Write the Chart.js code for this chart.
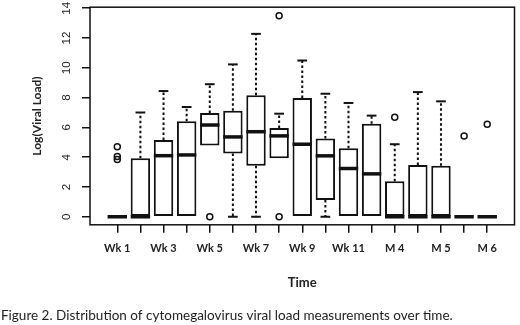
<!DOCTYPE html>
<html>
<head>
<meta charset="utf-8">
<script src="https://cdn.jsdelivr.net/npm/chart.js@4.4.1/dist/chart.umd.min.js"></script>
<style>
  html, body { margin: 0; padding: 0; background: #fff; }
  #wrap { width: 520px; height: 325px; }
</style>
</head>
<body>
<div id="wrap"><canvas id="boxChart"></canvas></div>
<script>
// one box per time point, R style boxplot
var positions = [1, 2, 3, 4, 5, 6, 7, 8, 9, 10, 11, 12, 13, 14, 15, 16, 17];
var tickLabels = ["Wk 1", "", "Wk 3", "", "Wk 5", "", "Wk 7", "", "Wk 9", "", "Wk 11", "", "M 4", "", "M 5", "", "M 6"];
var yTicks = [0, 2, 4, 6, 8, 10, 12, 14];

var whiskerLow = [0, 0, 0, 0, 4.78, 0, 0, 3.93, 0, 0, 0, 0, 0, 0, 0, 0, 0];
var q1 = [0, 0, 0, 0, 4.78, 4.24, 3.42, 3.93, 0, 1.12, 0, 0, 0, 0, 0, 0, 0];
var median = [0, 0, 4.1, 4.15, 6.16, 5.36, 5.71, 5.43, 4.87, 4.09, 3.24, 2.88, 0, 0, 0, 0, 0];
var q3 = [0, 3.93, 5.16, 6.41, 6.97, 7.12, 8.15, 5.96, 7.97, 5.25, 4.6, 6.25, 2.39, 3.48, 3.42, 0, 0];
var whiskerHigh = [0, 7.0, 8.44, 7.37, 8.9, 10.23, 12.28, 6.92, 10.49, 8.26, 7.64, 6.79, 4.87, 8.37, 7.75, 0, 0];

var outlierPos = [1, 1, 1, 5, 8, 8, 13, 16, 17];
var outlierVal = [4.7, 4.05, 3.85, 0, 13.5, 0, 6.68, 5.43, 6.21];

var caption = "Figure 2. Distribution of cytomegalovirus viral load measurements over time.";
var ink = "#111";

var boxData = positions.map(function (p, i) {
  return { x: p, y: [q1[i], q3[i]] };
});
var outlierData = outlierPos.map(function (p, i) {
  return { x: p, y: outlierVal[i] };
});

function seg(c, x1, y1, x2, y2) {
  c.beginPath();
  c.moveTo(x1, y1);
  c.lineTo(x2, y2);
  c.stroke();
}

var boxExtras = {
  id: "boxExtras",
  afterDatasetsDraw: function (chart) {
    var c = chart.ctx;
    var ys = chart.scales.y;
    var bars = chart.getDatasetMeta(0).data;
    c.save();
    c.strokeStyle = ink;
    for (var i = 0; i < bars.length; i++) {
      var b = bars[i];
      var half = b.width / 2;
      var cap = b.width / 4;
      var yq1 = ys.getPixelForValue(q1[i]);
      var yq3 = ys.getPixelForValue(q3[i]);
      var ylo = ys.getPixelForValue(whiskerLow[i]);
      var yhi = ys.getPixelForValue(whiskerHigh[i]);
      // whiskers (dotted)
      c.lineWidth = 2;
      c.setLineDash([2.5, 2.5]);
      if (yhi < yq3) seg(c, b.x, yq3, b.x, yhi);
      if (ylo > yq1) seg(c, b.x, yq1, b.x, ylo);
      c.setLineDash([]);
      // staples
      if (yhi < yq3) seg(c, b.x - cap, yhi, b.x + cap, yhi);
      if (ylo > yq1) seg(c, b.x - cap, ylo, b.x + cap, ylo);
      // median
      c.lineWidth = 3.5;
      var ym = ys.getPixelForValue(median[i]);
      seg(c, b.x - half, ym, b.x + half, ym);
    }
    // frame round the plot region
    var a = chart.chartArea;
    c.lineWidth = 1.5;
    c.strokeRect(a.left, a.top, a.right - a.left, a.bottom - a.top);
    // y tick labels, turned like R's default
    c.fillStyle = "#222";
    c.font = "11.5px 'Liberation Sans', Arial, sans-serif";
    c.textAlign = "center";
    c.textBaseline = "middle";
    ys.ticks.forEach(function (t) {
      c.save();
      c.translate(67, ys.getPixelForValue(t.value));
      c.rotate(-Math.PI / 2);
      c.fillText(String(t.value), 0, 0);
      c.restore();
    });
    c.restore();
  }
};

var ctx = document.getElementById("boxChart").getContext("2d");

var myChart = new Chart(ctx, {
  type: "bar",
  data: {
    datasets: [
      {
        type: "bar",
        data: boxData,
        backgroundColor: "#fff",
        borderColor: ink,
        borderWidth: 2,
        borderSkipped: false,
        barPercentage: 0.84,
        categoryPercentage: 1,
        order: 2,
      },
      {
        type: "scatter",
        data: outlierData,
        pointStyle: "circle",
        pointRadius: 3,
        borderWidth: 1.5,
        borderColor: ink,
        backgroundColor: "rgba(255,255,255,0)",
        order: 1,
      },
    ],
  },
  options: {
    responsive: true,
    maintainAspectRatio: false,
    animation: false,
    layout: { padding: { top: 6, right: 4, left: 1, bottom: 0 } },
    plugins: {
      legend: { display: false },
      tooltip: { enabled: false },
      title: {
        display: true,
        text: caption,
        position: "bottom",
        align: "start",
        color: "#222",
        font: { family: "Lato", size: 13.5, weight: "normal" },
        padding: { top: 13, bottom: 1 },
      },
    },
    scales: {
      x: {
        type: "linear",
        min: -0.18,
        max: 18.18,
        offset: false,
        afterBuildTicks: function (scale) {
          scale.ticks = positions.map(function (p) { return { value: p }; });
        },
        afterFit: function (scale) { scale.height = 70; },
        border: { display: false },
        grid: { drawOnChartArea: false, offset: false, tickLength: 8, color: ink, lineWidth: 1.5 },
        ticks: {
          autoSkip: false,
          maxRotation: 0,
          minRotation: 0,
          padding: 9,
          color: "#222",
          font: { family: "Lato", size: 11, weight: "bold" },
          callback: function (value) {
            var k = positions.indexOf(value);
            return k < 0 ? "" : tickLabels[k];
          },
        },
        title: {
          display: true,
          text: "Time",
          color: "#222",
          font: { family: "Lato", size: 13, weight: "bold" },
          padding: { top: 0, bottom: 4 },
        },
      },
      y: {
        min: -0.54,
        max: 14.07,
        afterBuildTicks: function (scale) {
          scale.ticks = yTicks.map(function (v) { return { value: v }; });
        },
        afterFit: function (scale) { scale.width = 89; },
        border: { display: false },
        grid: { drawOnChartArea: false, tickLength: 8, color: ink, lineWidth: 1.5 },
        ticks: {
          padding: 0,
          callback: function () { return ""; },
        },
        title: {
          display: true,
          text: "Log(Viral Load)",
          color: "#222",
          font: { family: "Lato", size: 12, weight: "bold" },
          padding: { top: 29, bottom: 0 },
        },
      },
    },
  },
  plugins: [boxExtras],
});
</script>
</body>
</html>
